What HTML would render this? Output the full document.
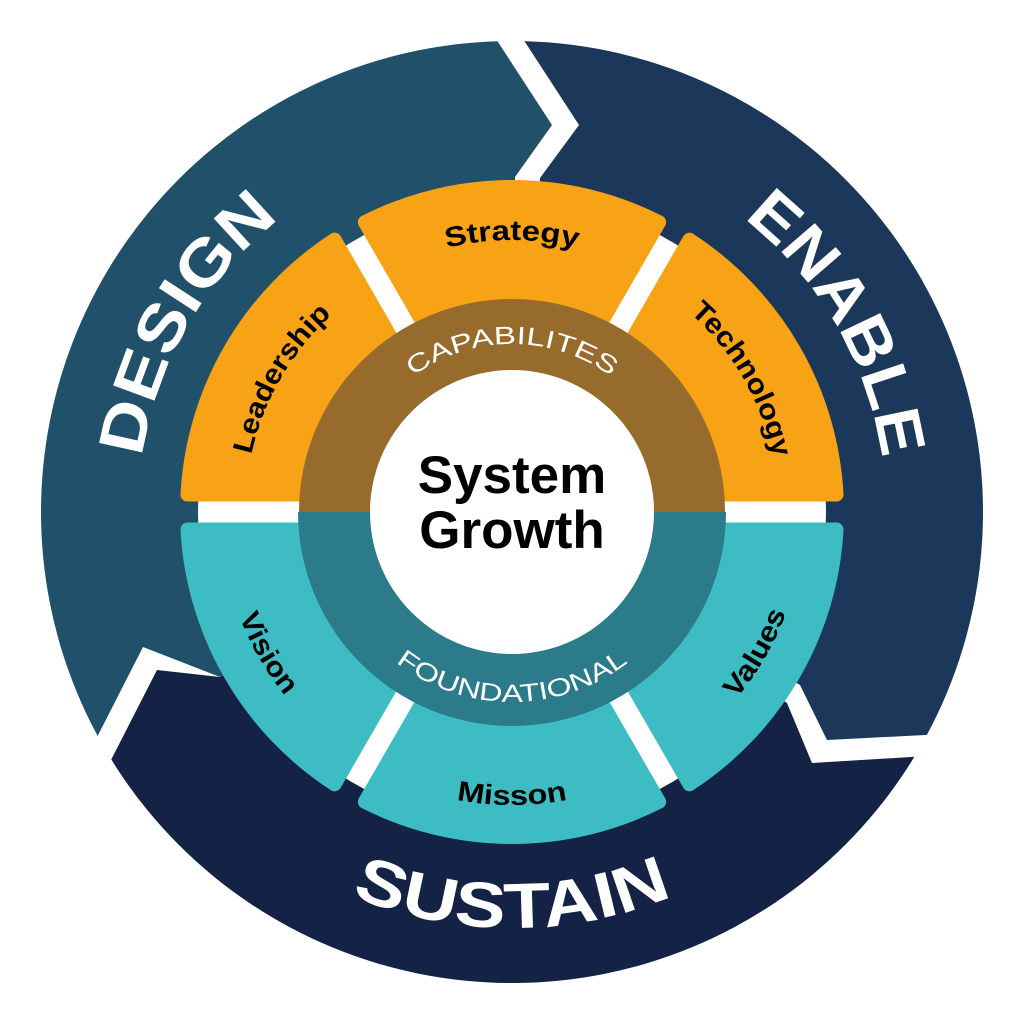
<!DOCTYPE html>
<html><head><meta charset="utf-8"><style>
html,body{margin:0;padding:0;background:#fff;width:1024px;height:1024px;overflow:hidden}
svg{display:block;position:absolute;left:0;top:0}
text{font-family:"Liberation Sans",Arial,sans-serif}
</style></head><body>
<svg id="s" width="1024" height="1024" viewBox="0 0 1024 1024" xmlns="http://www.w3.org/2000/svg">
<defs>
<clipPath id="oc"><circle cx="512" cy="512" r="471"/></clipPath>
</defs>
<g clip-path="url(#oc)">
<rect x="0" y="0" width="1024" height="1024" fill="#fff"/>
<polygon fill="#21506b" points="512,512 220,677 143,647 14,900 -50,1000 -50,-50 471,-50 471,0 498,42 552,125 515,177"/>
<polygon fill="#1b3759" points="512,512 540,178 579,125 525,42 498,0 498,-50 1100,-50 1100,726 925,735 827,740 800,685"/>
<polygon fill="#142246" points="512,512 787,703 812,763 911,757 1100,745 1100,1100 -63,1100 112,758 157,670 220,677"/>
</g>
<circle cx="512" cy="512" r="314" fill="#fff"/>
<g id="segs"></g>
<circle cx="512" cy="512" r="213" fill="#976b2b"/>
<path d="M298,512 A214,214 0 0 0 726,512 Z" fill="#2b7b8b"/>
<circle cx="512" cy="512" r="142" fill="#fff"/>
<g id="paths"></g>
<text x="512" y="493" font-size="53" font-weight="bold" text-anchor="middle" fill="#000">System</text>
<text x="512" y="548" font-size="53" font-weight="bold" text-anchor="middle" fill="#000">Growth</text>
<g id="labels"></g>
</svg>
<script>
var cx=512,cy=512;
function pt(r,a){a=a*Math.PI/180;return [cx+r*Math.cos(a),cy+r*Math.sin(a)];}
function f(p){return p[0].toFixed(2)+","+p[1].toFixed(2);}
var segs=document.getElementById('segs'),html="";
var sw=14,half=10.5+sw/2,rin=200,rout=332-sw/2;
function seg(a1,a2,col){
  function bpt(a,r,sgn){var u=[Math.cos(a*Math.PI/180),Math.sin(a*Math.PI/180)];var n=[-u[1]*sgn,u[0]*sgn];
    var al=Math.sqrt(r*r-half*half);return [cx+al*u[0]+half*n[0],cy+al*u[1]+half*n[1]];}
  var p1=bpt(a1,rin,1),p2=bpt(a1,rout,1),p3=bpt(a2,rout,-1),p4=bpt(a2,rin,-1);
  var d="M"+f(p1)+" L"+f(p2)+" A"+rout+","+rout+" 0 0 1 "+f(p3)+" L"+f(p4)+" A"+rin+","+rin+" 0 0 0 "+f(p1)+"Z";
  html+='<path d="'+d+'" fill="'+col+'" stroke="'+col+'" stroke-width="'+sw+'" stroke-linejoin="round"/>';
}
var O="#f8a215",T="#3dbdc3";
seg(180,240,O);seg(240,300,O);seg(300,360,O);
seg(0,60,T);seg(60,120,T);seg(120,180,T);
segs.innerHTML=html;
var paths="",labels="",id=0;
function arc(r,ac,span,cw){var a1,a2;if(cw){a1=ac-span;a2=ac+span;}else{a1=ac+span;a2=ac-span;}
  var p1=pt(r,a1),p2=pt(r,a2);id++;
  paths+='<path id="p'+id+'" d="M'+f(p1)+' A'+r+','+r+' 0 0 '+(cw?1:0)+' '+f(p2)+'" fill="none"/>';return "p"+id;}
function lab(txt,r,ac,cw,size,weight,col,len){var i=arc(r,ac,80,cw);
  labels+='<text font-size="'+size+'" font-weight="'+weight+'" fill="'+col+'"><textPath href="#'+i+'" startOffset="50%" text-anchor="middle"'+(len?' textLength="'+len+'" lengthAdjust="spacingAndGlyphs"':'')+'>'+txt+'</textPath></text>';}
lab("DESIGN",374,210,true,64,"bold","#fff",282);
lab("ENABLE",374,330,true,64,"bold","#fff",284);
lab("SUSTAIN",416,90,false,64,"bold","#fff",330);
lab("Strategy",272,270,true,28,"bold","#000",132);
lab("Leadership",267,210,true,28,"bold","#000",164);
lab("Technology",267,330,true,28,"bold","#000",170);
lab("Misson",293,90,false,28,"bold","#000",112);
lab("Vision",292,150,false,28,"bold","#000",92);
lab("Values",292,30,false,28,"bold","#000",100);
lab("CAPABILITES",168,270,true,25,"normal","#fff",212);
lab("FOUNDATIONAL",190,90,false,25,"normal","#fff",250);
document.getElementById('paths').innerHTML=paths;
document.getElementById('labels').innerHTML=labels;
</script>
</body></html>
